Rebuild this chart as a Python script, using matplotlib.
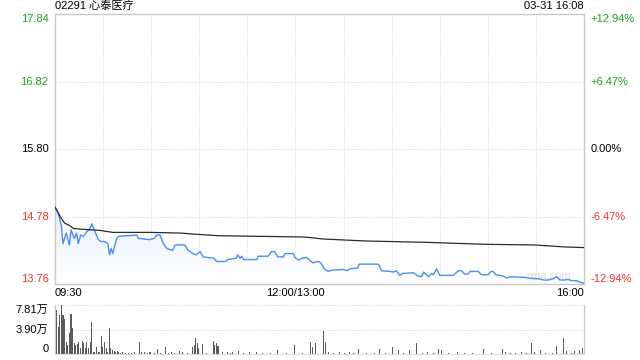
import numpy as np
import matplotlib
matplotlib.use("Agg")
import matplotlib.pyplot as plt
from matplotlib.colors import LinearSegmentedColormap

plt.rcParams['font.family'] = ['Liberation Sans', 'Noto Sans CJK SC', 'DejaVu Sans']

# minutes after 09:30 (lunch break removed), 330 = 16:00
price_min = [0, 2, 4, 5, 7, 9, 10, 12, 13.5, 14.5,
             16, 17.7, 19.8, 21.4, 22.9, 25, 27, 29, 31, 33,
             34, 35, 36, 38.5, 39.5, 51, 52, 59, 62, 63.4,
             65.5, 67.6, 69.7, 71.7, 73.4, 74.9, 81, 83, 86, 88,
             90.5, 92.5, 98.8, 100.9, 106, 108, 113, 114, 115.4, 116.5,
             117.5, 125.8, 126.8, 133, 135, 137, 139, 142.4, 143.5, 148.7,
             149.7, 152, 154, 157, 159, 160.7, 164.3, 165.7, 168.4, 170.5,
             172.6, 179.9, 182, 184, 188.6, 189.8, 201.7, 203.8, 209, 211,
             213, 215, 217, 223.5, 226.6, 228.7, 230, 233, 235, 236,
             238, 240, 248.5, 251.6, 253.7, 255.4, 257.8, 258.9, 264, 266,
             270.3, 271.8, 273.4, 275, 279.7, 281.8, 283.8, 293, 295.3, 298.4,
             301.5, 304.6, 307.7, 310.9, 313, 315, 318, 320, 322.3, 325.4,
             328.5, 330]
price = [14.92, 14.83, 14.63, 14.37, 14.53, 14.35, 14.58, 14.45, 14.53, 14.37,
         14.50, 14.48, 14.55, 14.58, 14.67, 14.55, 14.43, 14.40, 14.40, 14.37,
         14.20, 14.30, 14.22, 14.45, 14.48, 14.50, 14.45, 14.43, 14.45, 14.50,
         14.50, 14.37, 14.30, 14.28, 14.27, 14.35, 14.35, 14.27, 14.22, 14.20,
         14.25, 14.17, 14.15, 14.10, 14.10, 14.13, 14.15, 14.20, 14.15, 14.18,
         14.13, 14.13, 14.18, 14.18, 14.25, 14.25, 14.17, 14.17, 14.22, 14.22,
         14.16, 14.12, 14.15, 14.16, 14.12, 14.08, 14.10, 14.08, 13.98, 13.95,
         13.97, 13.98, 13.96, 13.99, 14.00, 14.06, 14.06, 13.96, 13.95, 13.94,
         13.96, 13.89, 13.92, 13.93, 13.88, 13.87, 13.94, 13.87, 13.92, 13.90,
         13.99, 13.89, 13.89, 13.96, 13.96, 13.91, 13.91, 13.95, 13.95, 13.90,
         13.90, 13.95, 13.95, 13.90, 13.88, 13.85, 13.87, 13.86, 13.85, 13.84,
         13.84, 13.82, 13.82, 13.84, 13.87, 13.82, 13.82, 13.83, 13.81, 13.81,
         13.78, 13.77]

avg_min = [0, 4, 6, 9.4, 11.4, 15.6, 28, 36, 59, 78, 89, 102, 156, 167, 194, 231, 268, 299, 318, 330]
avg_price = [14.92, 14.75, 14.68, 14.64, 14.60, 14.59, 14.57, 14.54, 14.54, 14.53,
             14.51, 14.49, 14.47, 14.44, 14.41, 14.39, 14.36, 14.35, 14.32, 14.31]

vol_min = [0, 1, 2, 3, 4, 5, 6, 7, 8, 9, 10, 11, 12, 13, 14, 15, 16, 17, 18, 19,
           20, 21, 22, 23, 24, 25, 26, 27, 28, 29, 30, 31, 32, 33, 34, 35, 36, 37, 38, 39,
           40, 41, 42, 50, 53, 54, 56, 59, 60, 64, 69, 73, 78, 80, 86, 87, 88, 89, 90, 92,
           99, 100, 101, 102, 105, 108, 111, 115, 122, 126, 139, 150, 160, 161, 163, 168, 169, 171, 178, 184,
           190, 203, 211, 215, 222, 226, 233, 240, 242, 252, 268, 280, 282, 292, 298, 300, 304, 314, 318, 320,
           325, 328, 330]
vol = [64800, 70100, 43600, 62200, 78100, 62200, 55800, 19700, 14300, 32900,
       63800, 40900, 17000, 14300, 15900, 19700, 9000, 20700, 17000, 9000,
       18600, 9000, 19700, 51500, 2700, 3700, 11700, 2700, 3700, 29200,
       11700, 19700, 9000, 2700, 40900, 9000, 6400, 4800, 3700, 4800,
       2700, 1600, 2700, 3700, 19700, 3700, 2700, 3700, 2700, 8000,
       11700, 2700, 4800, 2700, 11700, 14300, 25000, 17000, 9000, 15900,
       20700, 14300, 17000, 13300, 2700, 3700, 3700, 4800, 3700, 2700,
       6400, 14300, 19700, 11700, 17000, 36700, 19700, 2700, 3700, 2700,
       8000, 8000, 11700, 6400, 6400, 17000, 3700, 8000, 6400, 3700,
       8000, 8000, 3700, 2700, 17000, 2700, 6400, 13300, 26000, 4800,
       4800, 6400, 9000]
small_min = [44, 46, 48, 58, 62, 66, 71, 75, 83, 95, 110, 118, 130, 135, 145, 155,
             174, 181, 187, 195, 200, 207, 218, 230, 237, 246, 256, 261, 273, 285,
             288, 295, 307, 311, 323]
small_vol = [1500] * len(small_min)

prev_close = 15.80
y_ticks = [17.84, 16.82, 15.80, 14.78, 13.76]
pct_labels = ['+12.94%', '+6.47%', '0.00%', '-6.47%', '-12.94%']
vol_top = 78100
vol_labels = ['7.81万', '3.90万', '0']

green = '#1aa31a'
red = '#f0302a'
grid_c = '#d4d4d4'
spine_c = '#c8c8c8'
fs = 8

fig = plt.figure(figsize=(6.4, 3.6), dpi=100)
ax = fig.add_axes([55 / 640, 1 - 284 / 360, 529 / 640, 270 / 360])
axv = fig.add_axes([55 / 640, 1 - 354 / 360, 529 / 640, 49 / 360])

# price panel
for s in ax.spines.values():
    s.set_color(spine_c)
    s.set_linewidth(1)
for m in range(30, 330, 30):
    ax.axvline(m, color=grid_c, lw=0.7, ls=(0, (1, 1.5)), zorder=0)
for yv in y_ticks[1:4]:
    ax.axhline(yv, color=grid_c, lw=0.7, ls=(0, (1, 1.5)), zorder=0)

fill = ax.fill_between(price_min, price, y_ticks[-1], color='none', lw=0)
cmap = LinearSegmentedColormap.from_list('fade', ['#ffffff', '#e9f1fc'])
grad = np.linspace(0, 1, 200).reshape(-1, 1)
im = ax.imshow(grad, extent=[0, 330, y_ticks[-1], max(price)], aspect='auto',
               cmap=cmap, origin='lower', zorder=1)
im.set_clip_path(fill.get_paths()[0], transform=ax.transData)

ax.plot(price_min, price, color='#4a8ef0', lw=1.0, zorder=3)
ax.plot(avg_min, avg_price, color='#2a2a2a', lw=0.9, zorder=3)
ax.text(322, 13.80, 'sina.com', color='#dadada', fontsize=8, ha='right', va='bottom', zorder=2)

ax.set_xlim(0, 330)
ax.set_ylim(y_ticks[-1], y_ticks[0])
ax.set_xticks([])
ax.set_yticks([])

lab_colors = [green, green, 'black', red, red]
vas = ['top', 'center', 'center', 'center', 'bottom']
for yv, pl, c, va in zip(y_ticks, pct_labels, lab_colors, vas):
    ax.text(-4, yv, f'{yv:.2f}', color=c, fontsize=fs, ha='right', va=va)
    ax.text(334, yv, pl, color=c, fontsize=fs, ha='left', va=va)

ax.text(0, -0.015, '09:30', transform=ax.transAxes, fontsize=fs, ha='left', va='top')
ax.text(150 / 330, -0.015, '12:00/13:00', transform=ax.transAxes, fontsize=fs, ha='center', va='top')
ax.text(1, -0.015, '16:00', transform=ax.transAxes, fontsize=fs, ha='right', va='top')
ax.text(0, 1.01, '02291 心泰医疗', transform=ax.transAxes, fontsize=fs, ha='left', va='bottom')
ax.text(1, 1.01, '03-31 16:08', transform=ax.transAxes, fontsize=fs, ha='right', va='bottom')

# volume panel
axv.bar(vol_min, vol, width=0.65, color='#5a5a5a', zorder=2)
axv.bar(small_min, small_vol, width=0.65, color='#5a5a5a', zorder=2)
axv.set_xlim(0, 331)
axv.set_ylim(0, vol_top)
axv.set_xticks([])
axv.set_yticks([])
axv.spines['top'].set_visible(False)
axv.spines['bottom'].set_color('#dddddd')
axv.spines['left'].set_color(spine_c)
axv.spines['right'].set_color(spine_c)
axv.axhline(vol_top, color=grid_c, lw=0.7, ls=(0, (1, 1.5)), zorder=0)
axv.axhline(vol_top / 2, color=grid_c, lw=0.7, ls=(0, (1, 1.5)), zorder=0)
for yv, lb, va in zip([vol_top, vol_top / 2, 0], vol_labels, ['top', 'center', 'bottom']):
    axv.text(-4, yv, lb, fontsize=fs, ha='right', va=va)

fig.savefig('out.png', dpi=100)
